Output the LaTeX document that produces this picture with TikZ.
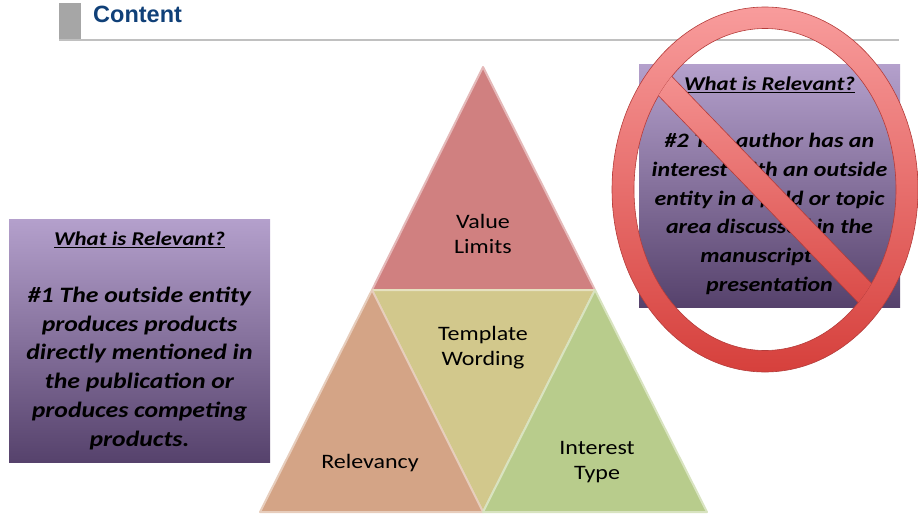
\documentclass[tikz,border=0pt]{standalone}
\usepackage{fontspec}
\setmainfont[FakeStretch=1.17]{Carlito}
\newfontfamily\headfont{Liberation Sans}
\usepackage{tikz}
\usetikzlibrary{calc}

\definecolor{headblue}{RGB}{16,64,120}
\definecolor{headgray}{RGB}{166,166,166}
\definecolor{rulegray}{RGB}{192,192,192}
\definecolor{valuefill}{RGB}{208,128,128}
\definecolor{wordfill}{RGB}{210,200,140}
\definecolor{relfill}{RGB}{212,164,134}
\definecolor{typefill}{RGB}{184,204,140}
\definecolor{boxtop}{RGB}{180,160,204}
\definecolor{boxbot}{RGB}{86,66,108}
\definecolor{bantop}{RGB}{248,156,156}
\definecolor{banbot}{RGB}{214,64,60}
\definecolor{banedge}{RGB}{180,60,58}

\newcommand{\relhead}{{\fontsize{19.5}{28.7}\selectfont\underline{What is Relevant?}}}

\begin{document}
\begin{tikzpicture}[x=1pt,y=-1pt,
  every node/.style={align=center,inner sep=0pt},
  face/.style={line width=2pt,line join=round},
  facetext/.style={font=\fontsize{20.5}{25}\selectfont},
  infobox/.style={minimum width=261pt,minimum height=243pt,
    top color=boxtop,bottom color=boxbot,
    font=\fontsize{22}{28.7}\selectfont\bfseries\itshape},
  banring/.style={top color=bantop,bottom color=banbot,draw=banedge,line width=.6pt}]

    \useasboundingbox (0,0) rectangle (918,514);

    % header
    \fill[headgray] (59,3) rectangle (81,39);
    \coordinate (rulestart) at (59,40);
    \coordinate (ruleend) at (899,40);
    \draw[rulegray,line width=1.6pt] (rulestart) -- (ruleend);
    \node[anchor=base west,text=headblue,font=\headfont\bfseries\fontsize{23.5}{26}\selectfont]
        (title) at (93,22) {Content};

    % pyramid
    \coordinate (apex) at (483,67);
    \coordinate (ml) at (372,290);
    \coordinate (mr) at (595,290);
    \coordinate (bl) at (260,512);
    \coordinate (bm) at (483,512);
    \coordinate (br) at (707,512);

    \filldraw[face,fill=valuefill,draw=valuefill!55!white] (apex) -- (ml) -- (mr) -- cycle;
    \filldraw[face,fill=wordfill,draw=wordfill!55!white] (ml) -- (mr) -- (bm) -- cycle;
    \filldraw[face,fill=relfill,draw=relfill!55!white] (ml) -- (bl) -- (bm) -- cycle;
    \filldraw[face,fill=typefill,draw=typefill!55!white] (mr) -- (bm) -- (br) -- cycle;

    \node[facetext] (value) at (483,234) {Value\\Limits};
    \node[facetext] (wording) at (483,348) {Template\\Wording};
    \node[facetext] (relevancy) at (370,463) {Relevancy};
    \node[facetext] (interest) at (597,462) {Interest\\Type};

    % boxes
    \node[infobox] (first) at (139.5,340.5)
        {\relhead\\[28.7pt]
         \#1 The outside entity\\produces products\\directly mentioned in\\
         the publication or\\produces competing\\products.};
    \node[infobox,font=\fontsize{20.5}{28.7}\selectfont\bfseries\itshape] (second) at (769.5,185.5)
        {\relhead\\[28.7pt]
         \#2 The author has an\\interest with an outside\\entity in a field or topic\\
         area discussed in the\\manuscript or\\presentation};

    % no sign
    \coordinate (ban) at (765,189.5);
    \shadedraw[banring,even odd rule]
        (ban) ellipse [x radius=153,y radius=182.5]
        (ban) ellipse [x radius=131,y radius=161];
    \coordinate (s1) at (626,45.5);
    \coordinate (s2) at (904,333.5);
    \begin{scope}
        \clip (ban) ellipse [x radius=131,y radius=161];
        \shadedraw[banring] ($(s1)!11.5pt!90:(s2)$) -- ($(s2)!11.5pt!-90:(s1)$)
            -- ($(s2)!11.5pt!90:(s1)$) -- ($(s1)!11.5pt!-90:(s2)$) -- cycle;
    \end{scope}
\end{tikzpicture}
\end{document}
